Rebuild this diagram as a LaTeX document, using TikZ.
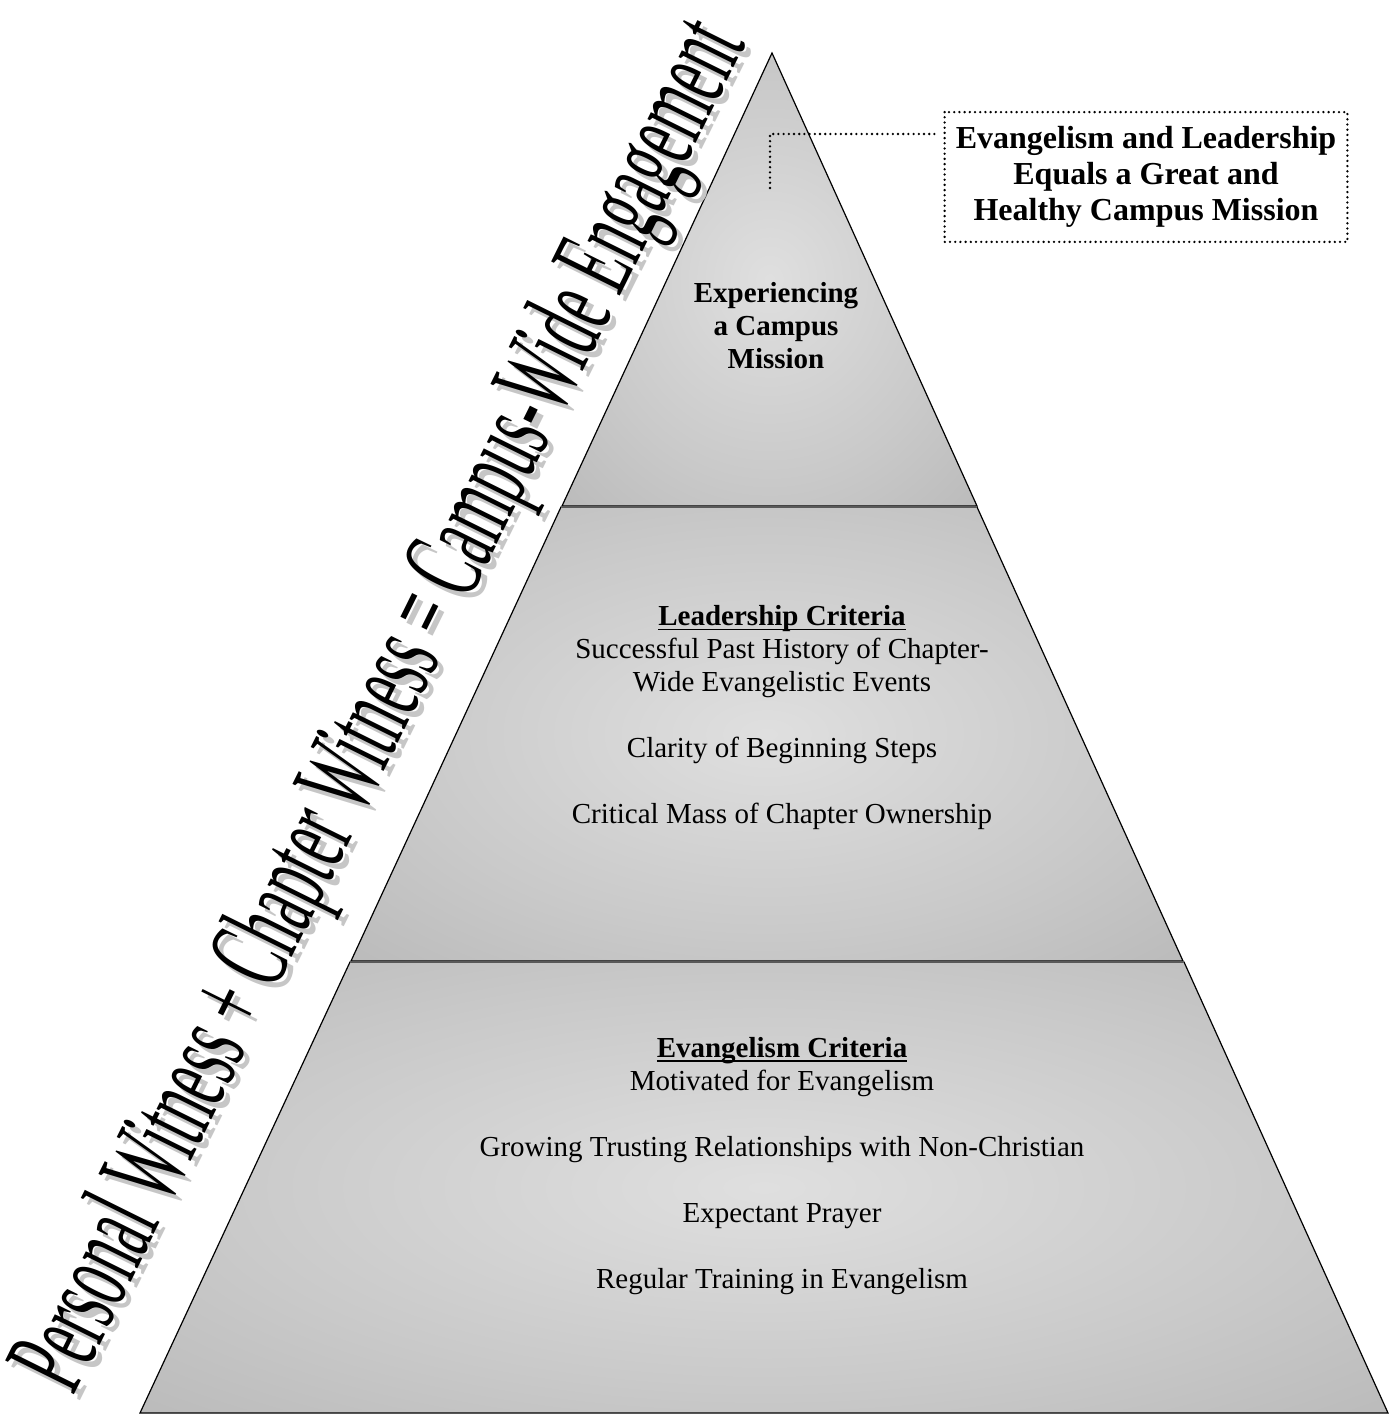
\documentclass[tikz,border=0pt]{standalone}
\usepackage{fontspec}
\setmainfont{Liberation Serif}
\pgfdeclareradialshading{tierglow}{\pgfpoint{0bp}{0bp}}{color(0bp)=(gray!25); color(22bp)=(gray!42); color(48bp)=(gray!64); color(70bp)=(gray!70)}
\tikzset{
  tier/.style={draw=black, line width=0.6pt, shading=tierglow},
  seam/.style={draw=black!65, line width=1.3pt},
  dotline/.style={line width=1.3pt, line cap=round, dash pattern=on 0pt off 2.6pt},
  tiertext/.style={align=center, font=\fontsize{14.5}{16.5}\selectfont, inner sep=0pt},
  slogan/.style={font=\fontsize{58.5}{60}\selectfont, inner sep=0pt, anchor=base, rotate=63.6},
}
\newcommand{\slogantext}{\scalebox{0.486}[1]{Personal Witness + Chapter Witness = Campus-Wide Engagement}}
\newcommand{\ulhead}[1]{\setbox0\hbox{\textbf{#1}}\rlap{\rule[-2.2pt]{\wd0}{0.7pt}}\box0}
\begin{document}
\begin{tikzpicture}[x=0.5pt,y=-0.5pt]
\useasboundingbox (0,0) rectangle (1389,1416);
% pyramid tiers
\shade[tier] (772,53) -- (977,506) -- (562,506) -- cycle;
\shade[tier] (561,507) -- (977,507) -- (1183,961) -- (351,961) -- cycle;
\shade[tier] (350,962) -- (1184,962) -- (1388,1413) -- (140,1413) -- cycle;
\draw[seam] (561,507) -- (977,507);
\draw[seam] (350,962) -- (1184,962);

% slanted slogan with its shadow
\coordinate (slogan) at (410,720);
\node[slogan, text=gray!45] at ([shift={(6,6)}]slogan) {\slogantext};
\node[slogan] (motto) at (slogan) {\slogantext};

% tier labels
\node[tiertext, font=\fontsize{14.5}{16.5}\selectfont\bfseries] (mission) at (776,326)
  {Experiencing\\a Campus\\Mission};
\node[tiertext] (leaders) at (782,718)
  {\ulhead{Leadership Criteria}\\
   Successful Past History of Chapter-\\Wide Evangelistic Events\\[16.5pt]
   Clarity of Beginning Steps\\[16.5pt]
   Critical Mass of Chapter Ownership};
\node[tiertext] (evangel) at (782,1166)
  {\ulhead{Evangelism Criteria}\\
   Motivated for Evangelism\\[16.5pt]
   Growing Trusting Relationships with Non-Christian\\[16.5pt]
   Expectant Prayer\\[16.5pt]
   Regular Training in Evangelism};

% callout
\node[align=center, font=\fontsize{16}{18}\selectfont\bfseries, minimum width=201pt, minimum height=64.5pt, inner sep=0pt] (callout) at (1146,177)
  {Evangelism and Leadership\\Equals a Great and\\Healthy Campus Mission};
\draw[dotline] (callout.north west) rectangle (callout.south east);
\coordinate (tip) at (770,188);
\coordinate (elbow) at (770,134);
\draw[dotline] (tip) -- (elbow) -- ([xshift=-5pt]elbow -| callout.west);
\end{tikzpicture}
\end{document}
